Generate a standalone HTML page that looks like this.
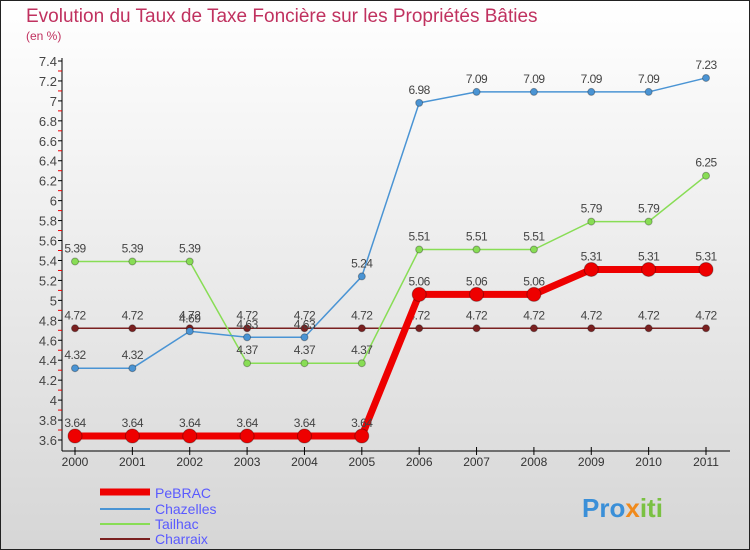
<!DOCTYPE html>
<html><head><meta charset="utf-8"><style>
body{margin:0}
svg{display:block;font-family:"Liberation Sans",sans-serif}
</style></head><body>
<svg width="750" height="550" viewBox="0 0 750 550" id="c">
<defs><linearGradient id="bg" x1="0" y1="0" x2="0" y2="1"><stop offset="0" stop-color="#ffffff"/><stop offset="1" stop-color="#d6d6d6"/></linearGradient></defs>
<rect x="0.5" y="0.5" width="749" height="549" fill="url(#bg)" stroke="#222"/>
<text x="26" y="22" font-size="19" fill="#c0315f">Evolution du Taux de Taxe Foncière sur les Propriétés Bâties</text>
<text x="26" y="40" font-size="12" fill="#c0315f">(en %)</text>
<g id="axes"></g><g id="series"></g>
<g>
<line x1="100" y1="492" x2="150" y2="492" stroke="#ee0000" stroke-width="7"/>
<text x="155" y="498" font-size="14" fill="#5a5aff">PeBRAC</text>
<line x1="100" y1="509" x2="150" y2="509" stroke="#4a94d4" stroke-width="2"/>
<text x="155" y="514" font-size="14" fill="#5a5aff">Chazelles</text>
<line x1="100" y1="524" x2="150" y2="524" stroke="#88dd55" stroke-width="2"/>
<text x="155" y="529" font-size="14" fill="#5a5aff">Tailhac</text>
<line x1="100" y1="539" x2="150" y2="539" stroke="#7a2020" stroke-width="2"/>
<text x="155" y="544" font-size="14" fill="#5a5aff">Charraix</text>
</g>
<text x="582" y="517" font-size="26" font-weight="bold" fill="#3a8fd8">Pro<tspan fill="#f08a1c">x</tspan><tspan fill="#7ac142">iti</tspan></text>
</svg>
<script>
const years=["2000","2001","2002","2003","2004","2005","2006","2007","2008","2009","2010","2011"];
const pebrac=[3.64,3.64,3.64,3.64,3.64,3.64,5.06,5.06,5.06,5.31,5.31,5.31];
const chazelles=[4.32,4.32,4.69,4.63,4.63,5.24,6.98,7.09,7.09,7.09,7.09,7.23];
const tailhac=[5.39,5.39,5.39,4.37,4.37,4.37,5.51,5.51,5.51,5.79,5.79,6.25];
const charraix=[4.72,4.72,4.72,4.72,4.72,4.72,4.72,4.72,4.72,4.72,4.72,4.72];
const yTicks=[3.6,3.8,4,4.2,4.4,4.6,4.8,5,5.2,5.4,5.6,5.8,6,6.2,6.4,6.6,6.8,7,7.2,7.4];
const NS="http://www.w3.org/2000/svg";
const xS=i=>75+i*(706-75)/11;
const yS=v=>440-(v-3.6)*(440-61)/3.8;
function mk(t,a,p){const e=document.createElementNS(NS,t);for(const k in a)e.setAttribute(k,a[k]);p.appendChild(e);return e;}
const ax=document.getElementById('axes'),se=document.getElementById('series');
const ya=mk('line',{x1:62,y1:58,x2:62,y2:451,stroke:'#000'},ax);


const xa=mk('line',{x1:62,y1:451,x2:730,y2:451,stroke:'#000'},ax);


yTicks.forEach((v,i)=>{const y=yS(v);
mk('line',{x1:58,y1:y,x2:62,y2:y,stroke:'#000'},ax);
if(i<yTicks.length-1)mk('line',{x1:58,y1:y-(440-61)/38,x2:62,y2:y-(440-61)/38,stroke:'#e00'},ax);
const t=mk('text',{x:57,y:y+5,'font-size':13,fill:'#444','text-anchor':'end'},ax);


t.textContent=String(v);});
years.forEach((yr,i)=>{const x=xS(i);
mk('line',{x1:x,y1:447,x2:x,y2:455,stroke:'#000'},ax);
const t=mk('text',{x:x,y:466,'font-size':12,fill:'#333','text-anchor':'middle'},ax);


t.textContent=yr;});
function draw(name,d,col,w,r){const g=mk('g',{},se);


mk('polyline',{points:d.map((v,i)=>xS(i)+','+yS(v)).join(' '),fill:'none',stroke:col,'stroke-width':w},g);
d.forEach((v,i)=>{const c=mk('circle',{cx:xS(i),cy:yS(v),r:r,fill:col,stroke:'rgba(0,0,0,0.3)','stroke-width':1},g);


const t=mk('text',{x:xS(i),y:yS(v)-9,'font-size':12,fill:'#444','text-anchor':'middle','letter-spacing':'-0.5'},g);


t.textContent=v.toFixed(2).replace(/0$/,'');});}
draw('charraix',charraix,'#7a2020',1.5,3.5);
draw('tailhac',tailhac,'#88dd55',1.5,3.5);
draw('chazelles',chazelles,'#4a94d4',1.5,3.5);
draw('pebrac',pebrac,'#ee0000',7,7);
</script>
</body></html>
